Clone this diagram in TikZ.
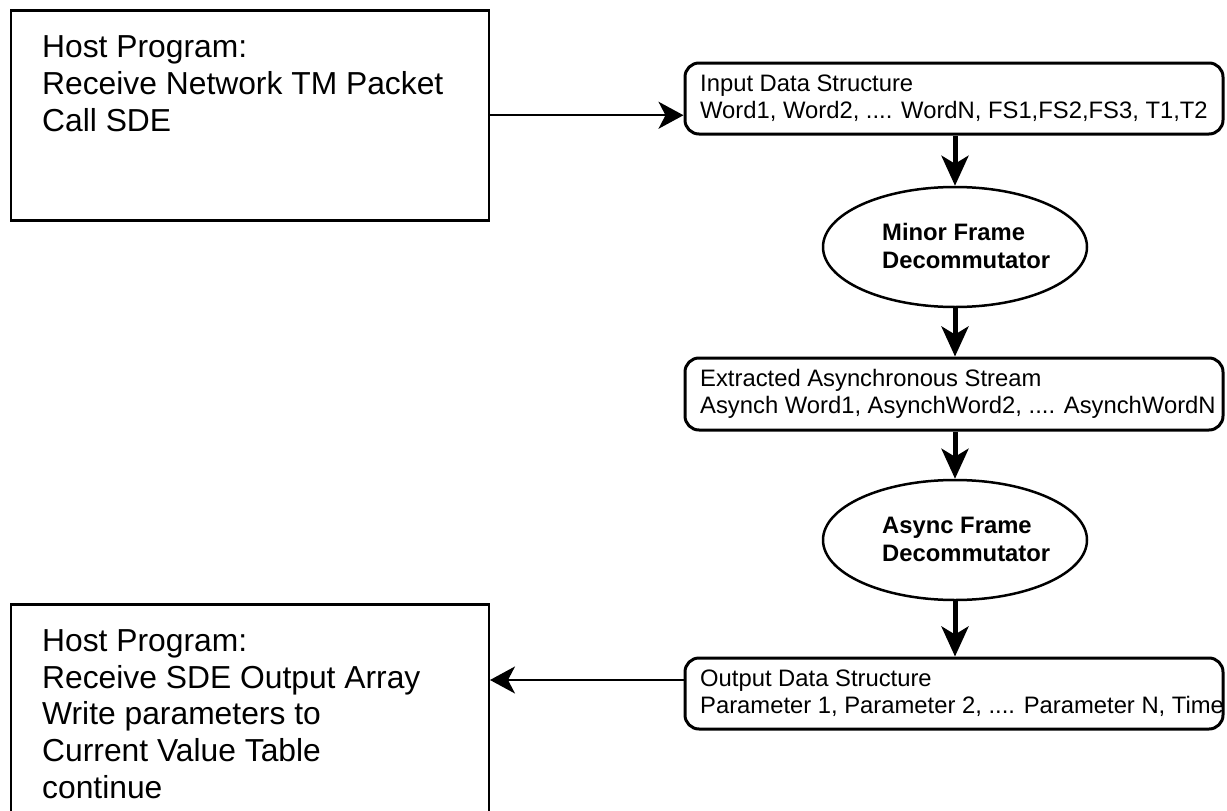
\documentclass[tikz,border=0pt]{standalone}
\usepackage{fontspec}
\setmainfont{Liberation Sans}
\usetikzlibrary{arrows.meta,shapes.geometric}
\begin{document}
\begin{tikzpicture}[x=1pt,y=-1pt,
  hostbox/.style={draw, line width=2.5pt, rectangle, minimum width=478pt, inner sep=0pt, anchor=north west},
  hosttxt/.style={anchor=north west, inner sep=0pt, align=left, font=\fontsize{31.8}{36.8}\selectfont},
  databox/.style={draw, line width=3pt, rounded corners=14pt, minimum width=538pt, minimum height=71pt, inner sep=0pt},
  datatxt/.style={anchor=west, inner sep=0pt, align=left, font=\fontsize{23.8}{27.2}\selectfont},
  decomm/.style={draw, ellipse, line width=2.5pt, minimum width=264pt, minimum height=120pt, inner sep=0pt},
  decomtxt/.style={anchor=west, inner sep=0pt, align=left, font=\fontsize{23.8}{28}\selectfont\bfseries},
  varrow/.style={line width=5pt, -{Stealth[length=30pt, width=27pt, inset=8pt]}},
  harrow/.style={line width=2pt, -{Stealth[length=25pt, width=27pt, inset=7pt]}}
]
\useasboundingbox (0,0) rectangle (1227,811);
\fill[white] (0,0) rectangle (1227,811);
\clip (0,0) rectangle (1227,811);

% host program boxes
\node[hostbox, minimum height=210pt] (hostA) at (9.5,9) {};
\node[hosttxt] (hostAtxt) at (42,35.6) {Host Program:\\Receive Network TM Packet\\Call SDE};
\node[hostbox, minimum height=260pt] (hostB) at (9.5,603) {};
\node[hosttxt] (hostBtxt) at (42,629.2) {Host Program:\\Receive SDE Output Array\\Write parameters to\\Current Value Table\\continue};

% data structures
\node[databox] (inbox) at (954,98.5) {};
\node[datatxt] (intxt) at (700,98.5) {Input Data Structure\\Word1, Word2, .... WordN, FS1,FS2,FS3, T1,T2};
\node[databox, minimum height=72pt] (exbox) at (954,394) {};
\node[datatxt] (extxt) at (700,394) {Extracted Asynchronous Stream\\Asynch Word1, AsynchWord2, .... AsynchWordN};
\node[databox] (outbox) at (954,693.5) {};
\node[datatxt] (outtxt) at (700,693.5) {Output Data Structure\\Parameter 1, Parameter 2, .... Parameter N, Time};

% decommutators
\node[decomm] (minor) at (955,247) {};
\node[decomtxt] (minortxt) at (882,246) {Minor Frame\\Decommutator};
\node[decomm] (async) at (955,540) {};
\node[decomtxt] (asynctxt) at (882,539) {Async Frame\\Decommutator};

% connectors
\draw[harrow] (hostA.east) -- (hostA.east -| inbox.west);
\draw[varrow] (inbox.south -| minor.north) -- (minor.north);
\draw[varrow] (minor.south) -- (minor.south |- exbox.north);
\draw[varrow] (exbox.south -| async.north) -- (async.north);
\draw[varrow] (async.south) -- (async.south |- outbox.north);
\coordinate (lev) at (0,680);
\draw[harrow] (outbox.west |- lev) -- (hostB.east |- lev);
\end{tikzpicture}
\end{document}
